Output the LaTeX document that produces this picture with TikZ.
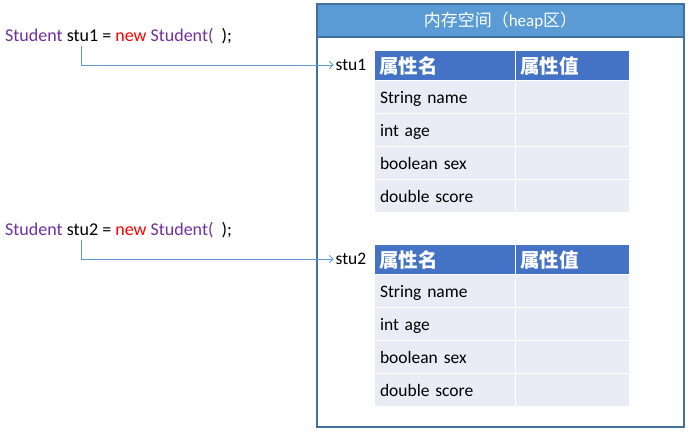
\documentclass[tikz,border=0pt]{standalone}
\usepackage{fontspec}
\setmainfont{Carlito}
\newfontfamily\cjk{Noto Sans CJK SC}
\usetikzlibrary{arrows.meta}
\definecolor{hdrblue}{HTML}{5B9BD5}
\definecolor{boxline}{HTML}{41719C}
\definecolor{tblhead}{HTML}{4472C4}
\definecolor{tblbody}{HTML}{E9EBF5}
\definecolor{codepurple}{HTML}{7030A0}
\definecolor{arrowblue}{HTML}{5B9BD5}
\tikzset{
  cell/.style={anchor=north west, inner sep=0pt, outer sep=0pt, text depth=0pt},
  headcell/.style={cell, fill=tblhead, minimum height=29pt, text=white, font=\cjk\bfseries\fontsize{19.5}{21}\selectfont},
  bodycell/.style={cell, fill=tblbody, minimum height=32pt, font=\fontsize{17.5}{19}\selectfont},
  codetext/.style={anchor=west, inner sep=0pt, font=\fontsize{18}{20}\selectfont},
  reflabel/.style={inner sep=2pt, font=\fontsize{17.5}{19}\selectfont},
  refarrow/.style={draw=arrowblue, line width=0.8pt, -{Straight Barb[length=3.5pt,width=7pt]}},
}
\begin{document}
\begin{tikzpicture}[x=1pt,y=-1pt]
\useasboundingbox (0,0) rectangle (692,432);
% heap box
\node[draw=boxline, line width=1.2pt, minimum width=367pt, minimum height=423pt, inner sep=0pt] (heap) at (500.5,215.5) {};
\node[draw=boxline, fill=hdrblue, line width=1.2pt, minimum width=367pt, minimum height=33pt, inner sep=0pt, text=white, font=\fontsize{17}{19}\selectfont] (heaptitle) at (500.5,20.5) {{\cjk 内存空间（}heap{\cjk 区）}};
% tables
\foreach \t/\dy in {1/0,2/194}{
  \node[headcell, minimum width=140pt, text width=136pt, align=left] (t\t h1) at (375,51+\dy) {\hspace*{2pt}属性名};
  \node[headcell, minimum width=113pt, text width=109pt, align=left] (t\t h2) at (516,51+\dy) {\hspace*{2pt}属性值};
  \foreach \r/\txt in {0/String name,1/int age,2/boolean sex,3/double score}{
    \node[bodycell, minimum width=140pt, text width=136pt, align=left] (t\t r\r a) at (375,81+\dy+33*\r) {\hspace*{3pt}\txt};
    \node[bodycell, minimum width=113pt] (t\t r\r b) at (516,81+\dy+33*\r) {};
  }
}
% code lines
\node[codetext] (code1) at (5,36) {\textcolor{codepurple}{Student} stu1 = \textcolor{red}{new} \textcolor{codepurple}{Student(}\ \ );};
\node[codetext] (code2) at (5,230) {\textcolor{codepurple}{Student} stu2 = \textcolor{red}{new} \textcolor{codepurple}{Student(}\ \ );};
% reference labels
\node[reflabel] (stu1) at (351,65) {stu1};
\node[reflabel] (stu2) at (351,259) {stu2};
% arrows
\coordinate (a1) at (81,46);
\coordinate (a2) at (81,240);
\draw[refarrow] (a1) |- (stu1.west);
\draw[refarrow] (a2) |- (stu2.west);
\end{tikzpicture}
\end{document}
